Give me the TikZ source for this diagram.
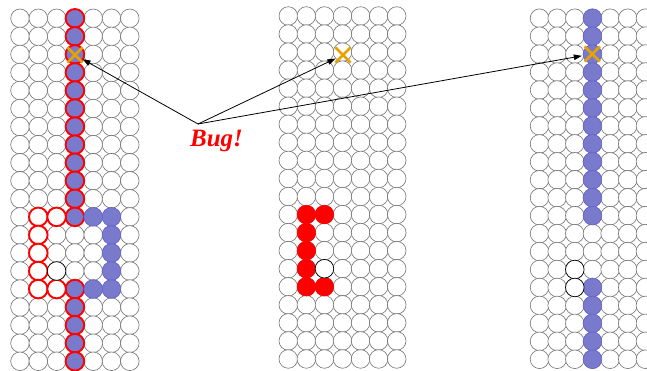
\documentclass[tikz,border=0pt]{standalone}
\usepackage{fontspec}
\setmainfont{Liberation Serif}
\usetikzlibrary{shapes.misc,arrows.meta}
\definecolor{cellblue}{RGB}{122,122,204}
\definecolor{celledge}{RGB}{115,115,115}
\definecolor{bugorange}{RGB}{230,162,0}
\tikzset{
  cell/.style={circle,minimum size=18.6pt,inner sep=0pt,draw=celledge,line width=0.6pt,fill=white},
  redblue/.style={cell,draw=red,line width=1.9pt,fill=cellblue},
  redhollow/.style={cell,draw=red,line width=1.9pt,fill=white},
  blueonly/.style={cell,draw=cellblue!80!blue,line width=0.6pt,fill=cellblue},
  redfill/.style={cell,draw=red,fill=red},
  darkcell/.style={cell,draw=black,line width=0.7pt},
  bugx/.style={cross out,draw=bugorange,line width=2.6pt,minimum size=12.5pt,inner sep=0pt},
  bugarrow/.style={draw=black,line width=0.8pt,-{Triangle[length=8pt,width=5.5pt]}},
}
\newcommand\cellgrid[5]{%
  \foreach \c in {1,...,7}{\foreach \r in {1,...,20}{%
    \node[cell] (#1-\r-\c) at ({#2+(\c-1)*#4},{#3+(\r-1)*#5}) {};}}}
\begin{document}
\begin{tikzpicture}[x=1pt,y=-1pt]
\clip (0,0) rectangle (647,370);
\fill[white] (0,0) rectangle (647,370);
% grids
\cellgrid{L}{20}{18.3}{18.3}{18.05}
\cellgrid{M}{288.3}{16}{18.07}{18.05}
\cellgrid{R}{539.5}{18.2}{17.65}{17.95}
% left grid
\foreach \r in {1,...,12,16,17,...,20} \node[redblue] at (L-\r-4) {};
\foreach \r/\c in {12/5,12/6,13/6,14/6,15/6,16/5,16/6} \node[blueonly] at (L-\r-\c) {};
\foreach \r/\c in {12/2,12/3,13/2,14/2,15/2,16/2,16/3} \node[redhollow] at (L-\r-\c) {};
\node[darkcell] at (L-15-3) {};
% middle grid
\foreach \r/\c in {12/2,12/3,13/2,14/2,15/2,16/2,16/3} \node[redfill] at (M-\r-\c) {};
\node[darkcell] at (M-15-3) {};
% right grid
\foreach \r in {1,...,12,16,17,...,20} \node[blueonly] at (R-\r-4) {};
\node[darkcell] at (R-15-3) {};
\node[darkcell] at (R-16-3) {};
% bug marks
\node[bugx] (xL) at (75,55) {};
\node[bugx] (xM) at (343,55) {};
\node[bugx] (xR) at (592.3,54) {};
\coordinate (apex) at (198,124);
\node[anchor=base,text=red,font=\fontsize{25}{28}\selectfont\bfseries\itshape,inner sep=0pt] (bug) at (216.5,146) {Bug!};
\draw[bugarrow] (apex) -- (xL);
\draw[bugarrow] (apex) -- (xM);
\draw[bugarrow,shorten >=3pt] (apex) -- (xR);
\end{tikzpicture}
\end{document}
